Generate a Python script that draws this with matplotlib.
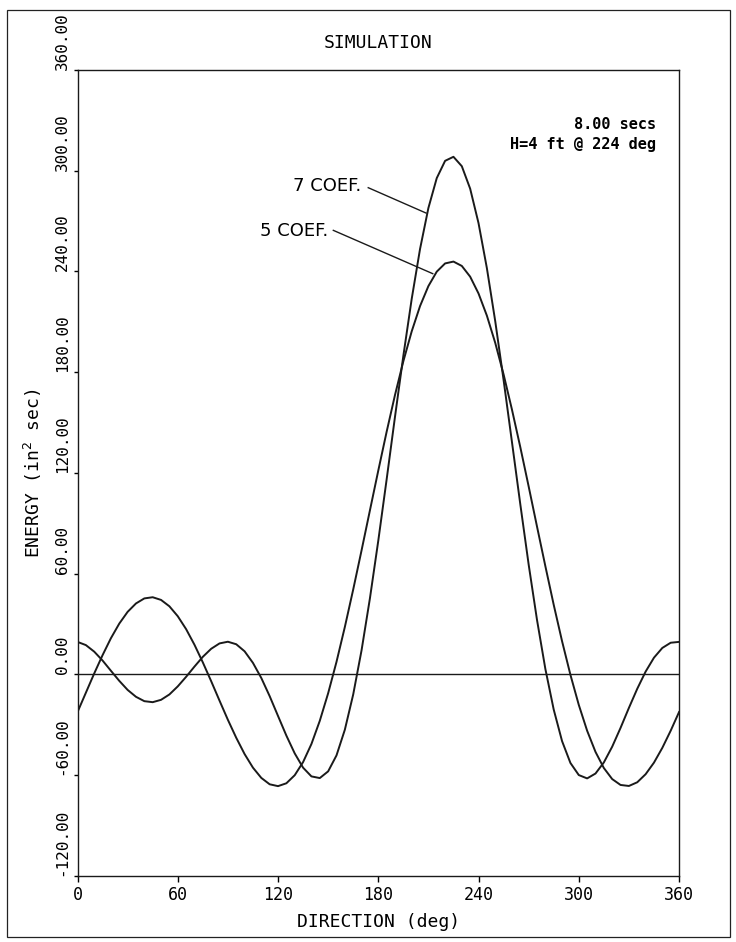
import numpy as np
import matplotlib
matplotlib.use('Agg')
import matplotlib.pyplot as plt
from matplotlib.patches import Rectangle

direction = np.arange(0, 361, 5)

energy_5coef = [-22.4, -10.9, 0.6, 11.5, 21.6, 30.3, 37.3, 42.3, 45.3, 46.0,
                44.4, 40.6, 34.7, 27.0, 17.7, 7.2, -4.0, -15.6, -27.0, -37.7,
                -47.4, -55.5, -61.6, -65.4, -66.5, -64.8, -60.0, -52.2, -41.4, -27.6,
                -11.2, 7.5, 28.3, 50.6, 73.9, 97.7, 121.4, 144.5, 166.4, 186.5,
                204.3, 219.4, 231.3, 239.9, 244.8, 245.9, 243.3, 236.9, 226.9, 213.7,
                197.5, 178.7, 157.8, 135.4, 112.0, 88.1, 64.5, 41.5, 19.8, -0.2,
                -18.1, -33.5, -46.1, -55.7, -62.3, -65.8, -66.4, -64.2, -59.4, -52.5,
                -43.7, -33.5, -22.4]

energy_7coef = [19.4, 17.5, 13.6, 8.3, 2.2, -3.8, -9.2, -13.3, -15.9, -16.5,
                -15.1, -11.9, -7.1, -1.4, 4.7, 10.5, 15.3, 18.5, 19.5, 18.0,
                13.8, 6.9, -2.1, -12.9, -24.7, -36.4, -47.0, -55.5, -60.7, -61.7,
                -57.7, -48.2, -32.9, -11.9, 14.4, 45.3, 79.6, 116.1, 153.4, 189.7,
                223.6, 253.4, 277.8, 295.6, 305.9, 308.3, 302.7, 289.3, 268.8, 242.0,
                210.4, 175.4, 138.5, 101.4, 65.5, 32.5, 3.3, -20.9, -39.7, -52.7,
                -59.9, -61.9, -59.0, -52.4, -43.0, -31.8, -19.9, -8.5, 1.7, 10.0,
                15.8, 18.9, 19.4]

xticks = [0, 60, 120, 180, 240, 300, 360]
xtick_labels = ['0', '60', '120', '180', '240', '300', '360']
yticks = [-120, -60, 0, 60, 120, 180, 240, 300, 360]
ytick_labels = ['-120.00', '-60.00', '0.00', '60.00', '120.00', '180.00', '240.00', '300.00', '360.00']

mono = 'DejaVu Sans Mono'

fig = plt.figure(figsize=(7.36, 9.42), dpi=100)

# Marco exterior
fig.patches.append(Rectangle((0.0095, 0.0053), 0.9823, 0.9841, transform=fig.transFigure,
                             fill=False, edgecolor='#222222', linewidth=0.9))

ax = fig.add_axes([0.1053, 0.0701, 0.8173, 0.8556])

ax.plot(direction, energy_5coef, color='#1a1a1a', linewidth=1.4)
ax.plot(direction, energy_7coef, color='#1a1a1a', linewidth=1.4)
ax.axhline(0, color='#1a1a1a', linewidth=1.0)

ax.set_xlim(0, 360)
ax.set_ylim(-120, 360)

for s in ax.spines.values():
    s.set_linewidth(1.0)
    s.set_color('#1a1a1a')

ax.set_xticks(xticks)
ax.set_xticklabels(xtick_labels, fontfamily=mono, fontsize=12)
ax.set_yticks(yticks)
ax.set_yticklabels(ytick_labels, fontfamily=mono, fontsize=11.5, rotation=90, va='bottom', ha='center')
ax.tick_params(axis='x', direction='out', length=4, width=1.0, pad=3)
ax.tick_params(axis='y', direction='out', length=3, width=1.0, pad=8)

# Textos
fig.text(0.5136, 0.9544, 'SIMULATION', fontfamily=mono, fontsize=13, ha='center', va='center')
ax.text(0.5, -0.057, 'DIRECTION (deg)', fontfamily=mono, fontsize=13,
        ha='center', va='center', transform=ax.transAxes)
ax.text(-0.074, 0.5, 'ENERGY (in$^2$ sec)', fontfamily=mono, fontsize=13, rotation=90,
        ha='center', va='center', transform=ax.transAxes)

ax.text(0.962, 0.932, '8.00 secs', fontfamily=mono, fontsize=11, fontweight='bold',
        ha='right', va='center', transform=ax.transAxes)
ax.text(0.962, 0.908, 'H=4 ft @ 224 deg', fontfamily=mono, fontsize=11, fontweight='bold',
        ha='right', va='center', transform=ax.transAxes)

# Etiquetas das curvas con liñas guia
ax.text(170, 291, '7 COEF.', fontsize=13, ha='right', va='center')
ax.plot([174.0, 208.6], [289.9, 274.8], color='#1a1a1a', linewidth=1.0)
ax.text(150, 264, '5 COEF.', fontsize=13, ha='right', va='center')
ax.plot([153.1, 212.6], [264.5, 238.7], color='#1a1a1a', linewidth=1.0)

fig.savefig('out.png', dpi=100)
